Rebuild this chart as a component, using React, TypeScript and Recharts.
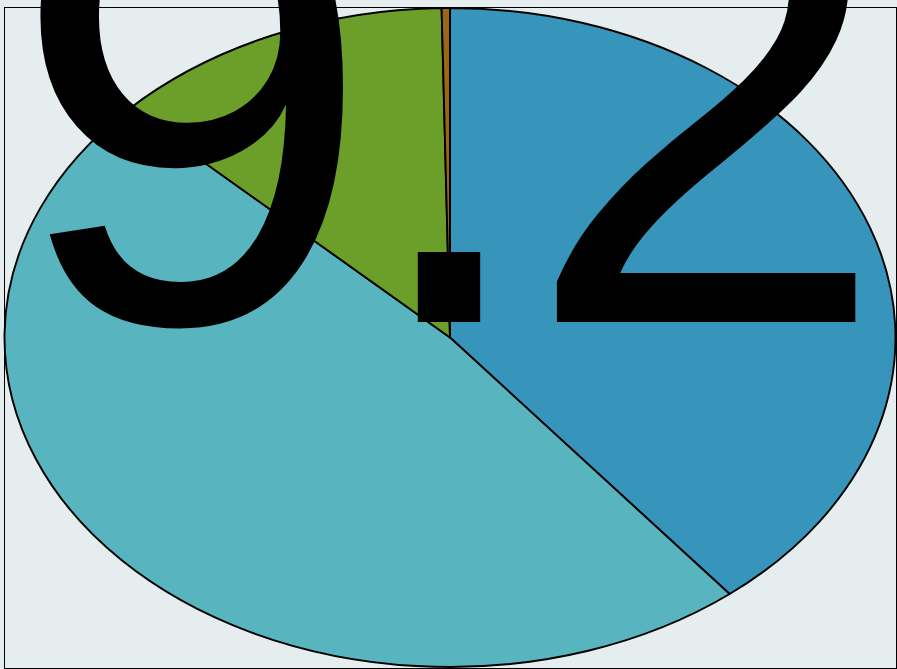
import React from 'react';
import { PieChart, Pie, Cell } from 'recharts';

const categories = ['A', 'B', 'C', 'D'];
const values = [39.2, 48.0, 12.5, 0.3];
const colors = ['#3794bb', '#58b4bf', '#6b9f29', '#9b6616'];
const centerLabel = '9.2';

const data = categories.map((name, i) => ({ name, value: values[i] }));

const RX = 445.5;
const RY = 329.5;
const RAD = Math.PI / 180;

function EllipseSector(props: any) {
  const { cx, cy, outerRadius, startAngle, endAngle, fill } = props;
  const rx = (outerRadius * RX) / RY;
  const ry = outerRadius;
  const x1 = cx + rx * Math.cos(startAngle * RAD);
  const y1 = cy - ry * Math.sin(startAngle * RAD);
  const x2 = cx + rx * Math.cos(endAngle * RAD);
  const y2 = cy - ry * Math.sin(endAngle * RAD);
  const delta = Math.abs(endAngle - startAngle);
  const large = delta > 180 ? 1 : 0;
  const sweep = endAngle < startAngle ? 1 : 0;
  const d = `M${cx},${cy} L${x1},${y1} A${rx},${ry} 0 ${large} ${sweep} ${x2},${y2} Z`;
  return <path d={d} fill={fill} stroke="#000" strokeWidth={1.9} strokeLinejoin="round" />;
}

export default function App() {
  return (
    <div style={{ position: 'absolute', left: 0, top: 0, width: 897, height: 669, background: '#e5edef', overflow: 'hidden' }}>
      <div style={{ position: 'absolute', left: 4, top: 7, width: 891, height: 660, border: '1.5px solid #000' }} />
      <div style={{ position: 'absolute', left: 0, top: 0 }}>
        <PieChart width={897} height={669} margin={{ top: 0, right: 0, bottom: 0, left: 0 }}>
          <Pie
            data={data}
            dataKey="value"
            nameKey="name"
            cx={450}
            cy={337.5}
            outerRadius={RY}
            innerRadius={0}
            startAngle={90}
            endAngle={-270}
            isAnimationActive={false}
            stroke="#000"
            shape={EllipseSector}
            activeShape={EllipseSector}
            inactiveShape={EllipseSector}
            labelLine={false}
          >
            {data.map((d, i) => (
              <Cell key={d.name} fill={colors[i]} />
            ))}
          </Pie>
        </PieChart>
      </div>
      <svg width={897} height={669} style={{ position: 'absolute', left: 0, top: 0, pointerEvents: 'none' }}>
        <text x={441} y={322} textAnchor="middle" letterSpacing={-16} fontFamily="'Liberation Sans', Arial, sans-serif" fontSize={655} fill="#000">
          {centerLabel}
        </text>
      </svg>
    </div>
  );
}
